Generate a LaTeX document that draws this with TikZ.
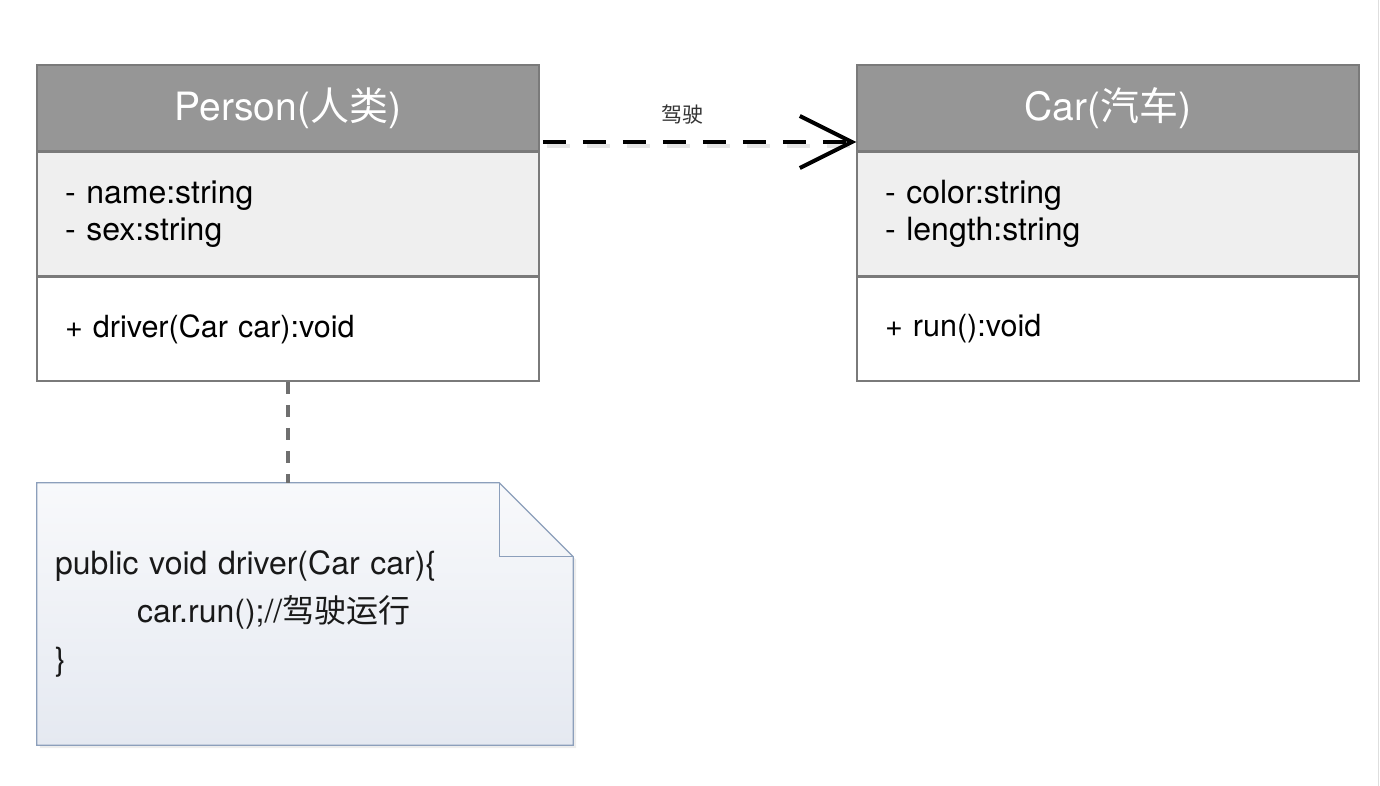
\documentclass[tikz,border=0pt]{standalone}
\usepackage{fontspec}
\setmainfont{TeX Gyre Heros}
\newfontfamily\cjk{Noto Sans CJK SC}
\usetikzlibrary{arrows.meta,positioning}
\pgfdeclarelayer{background}
\pgfsetlayers{background,main}
\definecolor{headgray}{HTML}{969696}
\definecolor{attrgray}{HTML}{EFEFEF}
\definecolor{boxline}{HTML}{7A7A7A}
\definecolor{notetop}{HTML}{F8F9FB}
\definecolor{notebottom}{HTML}{E5E9F1}
\definecolor{noteline}{HTML}{8C9FBB}
\definecolor{linkgray}{HTML}{6F6F6F}
\tikzset{
  classhead/.style={draw=boxline, fill=headgray, text=white, line width=1.5pt,
    minimum width=502pt, minimum height=86pt, inner sep=0pt,
    font=\fontsize{39}{44}\selectfont},
  classpart/.style={draw=boxline, line width=1.5pt, text width=446pt,
    inner xsep=28pt, inner ysep=0pt, align=left, anchor=north, text=black,
    font=\fontsize{32}{37}\selectfont},
  notebox/.style={minimum width=536pt, minimum height=262pt, text width=500pt,
    inner xsep=18pt, inner ysep=0pt, align=left, text=black!90,
    font=\fontsize{32}{48}\selectfont},
  depend/.style={line width=4pt, dash pattern=on 23pt off 17pt,
    -{Straight Barb[length=52pt,width=52pt]}},
  notelink/.style={linkgray, line width=4pt, dash pattern=on 12pt off 11pt}
}
\begin{document}
\begin{tikzpicture}[x=1pt,y=-1pt]
  \useasboundingbox (0,0) rectangle (1380,786);
  \draw[black!13, line width=1pt] (1378,0) -- (1378,786);
  % Person
  \node[classhead] (personhead) at (288,108) {Person({\cjk 人类})};
  \node[classpart, fill=attrgray, minimum height=123pt] (personattr) at (personhead.south)
    {- name:string\\- sex:string};
  \node[classpart, fill=white, minimum height=104pt, font=\fontsize{30.5}{37}\selectfont]
    (personmeth) at (personattr.south) {+ driver(Car car):void};
  % Car
  \node[classhead] (carhead) at (1108,108) {Car({\cjk 汽车})};
  \node[classpart, fill=attrgray, minimum height=123pt] (carattr) at (carhead.south)
    {- color:string\\- length:string};
  \node[classpart, fill=white, minimum height=104pt, font=\fontsize{30.5}{37}\selectfont]
    (carmeth) at (carattr.south) {+ run():void};
  % note
  \node[notebox] (note) at (305,614)
    {public void driver(Car car)\{\\\hspace*{82pt}car.run();//{\cjk 驾驶运行}\\\}};
  \begin{pgfonlayer}{background}
    \fill[black!7, transform canvas={shift={(3pt,-3pt)}}] (note.north west)
      -- ([xshift=-74pt]note.north east) -- ([yshift=-74pt]note.north east)
      -- (note.south east) -- (note.south west) -- cycle;
    \draw[noteline, line width=1.2pt, top color=notetop, bottom color=notebottom]
      (note.north west) -- ([xshift=-74pt]note.north east)
      -- ([yshift=-74pt]note.north east) -- (note.south east)
      -- (note.south west) -- cycle;
    \draw[noteline, line width=1.2pt] ([xshift=-74pt]note.north east)
      -- ([xshift=-74pt,yshift=-74pt]note.north east) -- ([yshift=-74pt]note.north east);
  \end{pgfonlayer}
  \draw[notelink] (personmeth.south) -- (personmeth.south |- note.north);
  % dependency
  \draw[black!10, line width=4pt, dash pattern=on 23pt off 17pt, shorten <=3pt, shorten >=8pt,
    transform canvas={shift={(4pt,-4pt)}}]
    ([yshift=-34pt]personhead.east) -- ([yshift=-34pt]carhead.west);
  \draw[depend, shorten <=3pt] ([yshift=-34pt]personhead.east) -- ([yshift=-34pt]carhead.west)
    node[pos=0.45, above=12pt, font=\fontsize{21}{24}\selectfont\cjk, text=black!80] (drivelbl) {驾驶};
\end{tikzpicture}
\end{document}
